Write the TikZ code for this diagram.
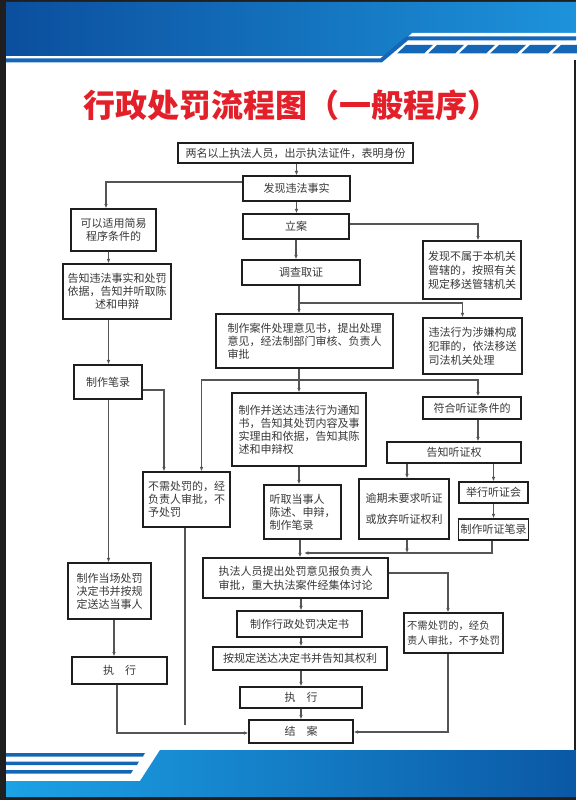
\documentclass[tikz,border=0pt]{standalone}
\usepackage{fontspec}
\newfontfamily\cjk{Noto Sans CJK SC}
\usetikzlibrary{arrows.meta}
\definecolor{txt}{HTML}{383838}
\definecolor{boxc}{HTML}{1E1E1E}
\definecolor{linec}{HTML}{555555}
\definecolor{frame}{HTML}{1F1F1F}
\definecolor{bandL}{HTML}{0B4F9E}
\definecolor{bandR}{HTML}{1D93DB}
\definecolor{stripe}{HTML}{1466B6}
\definecolor{botL}{HTML}{1CA2E6}
\definecolor{botR}{HTML}{0B58A5}
\definecolor{titlered}{HTML}{E3202A}
\tikzset{
  box/.style={draw=boxc, line width=1.2pt, fill=white, inner sep=2pt, text=txt,
    font=\cjk\fontsize{11}{13}\selectfont, align=center},
  arr/.style={draw=linec, line width=1.1pt, -{Latex[length=4.5pt,width=3.6pt]}},
  ln/.style={draw=linec, line width=1.1pt}
}
\newcommand\mybox[6]{\node[box,#1,minimum width=#4pt,minimum height=#5pt] (#2) at (#3) {#6};}
\begin{document}
\begin{tikzpicture}[x=1pt,y=-1pt]
\useasboundingbox (0,0) rectangle (576,800);
% frame and background
\fill[frame] (0,0) rectangle (576,800);
\fill[white] (6,2) rectangle (574,797);
% header
\shade[left color=bandL, right color=bandR] (6,2) -- (576,2) -- (576,33) -- (412,33) -- (386,56) -- (6,56) -- cycle;
\fill[white] (412,33) -- (576,33) -- (576,60) -- (574,60) -- (574,36) -- cycle;
\draw[stripe, line width=4pt] (6,60.5) -- (381,60.5) -- (407,38.5) -- (576,38.5);
\foreach \i in {0,...,5}{
  \fill[stripe] ({397+31*\i},53.5) -- ({424+31*\i},53.5) -- ({433+31*\i},45) -- ({406+31*\i},45) -- cycle;
}
% footer
\shade[left color=botL, right color=botR] (160,750) -- (576,750) -- (576,797) -- (6,797) -- (6,781) -- (140,781) -- cycle;
\fill[stripe] (6,753) -- (145,753) -- (143,756.5) -- (6,756.5) -- cycle;
\fill[stripe] (6,761.5) -- (139,761.5) -- (137,765) -- (6,765) -- cycle;
\fill[stripe] (6,770) -- (133,770) -- (131,773.5) -- (6,773.5) -- cycle;
% title
\node[text=titlered, font=\cjk\bfseries\fontsize{32}{32}\selectfont, inner sep=0pt] (title) at (291,105) {行政处罚流程图（一般程序）};

% boxes
\mybox{}{A}{295.5,153}{235}{20}{两名以上执法人员，出示执法证件，表明身份}
\mybox{}{B}{296.5,188.5}{107}{25}{发现违法事实}
\mybox{}{C}{296,226.5}{106}{25}{立案}
\mybox{}{D}{301,272.5}{118}{25}{调查取证}
\mybox{}{E}{113.5,230}{85}{42}{可以适用简易\\程序条件的}
\mybox{}{F}{117,291.5}{108}{55}{告知违法事实和处罚\\依据，告知并听取陈\\述和申辩}
\mybox{align=left}{G}{304.5,341}{177}{54}{制作案件处理意见书，提出处理\\意见，经法制部门审核、负责人\\审批}
\mybox{align=left,font=\cjk\fontsize{11}{14}\selectfont}{H}{472,270}{98}{58}{发现不属于本机关\\管辖的，按照有关\\规定移送管辖机关}
\mybox{align=left,font=\cjk\fontsize{11}{14}\selectfont}{I}{472.5,346}{99}{56}{违法行为涉嫌构成\\犯罪的，依法移送\\司法机关处理}
\mybox{}{J}{108,382}{68}{34}{制作笔录}
\mybox{align=left}{K}{186.5,499.5}{87}{55}{不需处罚的，经\\负责人审批，不\\予处罚}
\mybox{align=left}{L}{299,429.5}{134}{73}{制作并送达违法行为通知\\书，告知其处罚内容及事\\实理由和依据，告知其陈\\述和申辩权}
\mybox{}{M}{472,408}{98}{22}{符合听证条件的}
\mybox{align=left}{N}{302.5,512}{77}{54}{听取当事人\\陈述、申辩，\\制作笔录}
\mybox{}{P}{454,452.5}{134}{21}{告知听证权}
\mybox{font=\cjk\fontsize{11}{21}\selectfont}{Q}{404,509}{90}{60}{逾期未要求听证\\或放弃听证权利}
\mybox{}{R}{493.5,492.5}{69}{21}{举行听证会}
\mybox{}{S}{493.5,529.5}{69}{21}{制作听证笔录}
\mybox{}{O}{109.5,591}{83}{56}{制作当场处罚\\决定书并按规\\定送达当事人}
\mybox{}{Z}{119.5,670.5}{95}{27}{执\hspace{1em}行}
\mybox{font=\cjk\fontsize{11}{14}\selectfont}{T}{295.5,578}{185}{40}{执法人员提出处罚意见报负责人\\审批，重大执法案件经集体讨论}
\mybox{align=left,font=\cjk\fontsize{10.3}{15}\selectfont}{U}{453.5,633}{99}{40}{不需处罚的，经负\\责人审批，不予处罚}
\mybox{}{V}{299.5,624}{125}{26}{制作行政处罚决定书}
\mybox{}{W}{300,658.5}{174}{23}{按规定送达决定书并告知其权利}
\mybox{}{X}{301,697.5}{122}{21}{执\hspace{1em}行}
\mybox{}{Y}{301,731.5}{104}{23}{结\hspace{1em}案}

% helper coordinates
\coordinate (spine) at (299,0);
\coordinate (spine2) at (301,0);
\coordinate (leftx) at (108.5,0);
\coordinate (hx) at (478,0);
\coordinate (qx) at (407,0);
\coordinate (zx) at (114,0);
\coordinate (br1) at (299,303);
\coordinate (bus) at (299,380);
\coordinate (bus2) at (300,553);
\coordinate (kend) at (185,725);

% connectors
\draw[arr] (A.south -| B.north) -- (B.north);
\draw[arr] (B.south) -- (C.north -| B.south);
\draw[arr] (C.south) -- (D.north -| C.south);
\draw[arr] ([yshift=6.5pt]B.west) -| ([xshift=-7.5pt]E.north);
\draw[arr] ([yshift=2.5pt]C.east) -| ([xshift=6pt]H.north);
\draw[arr] (D.south -| spine) -- (G.north -| spine);
\draw[arr] (br1) -| ([xshift=-10pt]I.north);
\draw[arr] (E.south -| leftx) -- (F.north -| leftx);
\draw[arr] (F.south -| leftx) -- (J.north -| leftx);
\draw[arr] (J.south -| leftx) -- (O.north -| leftx);
\draw[arr] (G.south -| spine) -- (L.north -| spine);
\draw[arr] (bus) -| ([xshift=15pt]K.north);
\draw[arr] (bus) -| (M.north -| hx);
\draw[arr] ([yshift=-8pt]J.east) -| ([xshift=-22.5pt]K.north);
\draw[ln] ([xshift=-1.5pt]K.south) -- (kend);
\draw[arr] (L.south -| spine) -- (N.north -| spine);
\draw[arr] (M.south -| hx) -- (P.north -| hx);
\draw[arr] (P.south -| qx) -- (Q.north -| qx);
\draw[arr] (P.south -| R.north) -- (R.north);
\draw[arr] (R.south) -- (S.north);
\draw[arr] (N.south -| bus2) -- (T.north -| bus2);
\draw[arr] (Q.south -| qx) -- (bus2 -| qx);
\draw[arr] ([xshift=-1.5pt]S.south) |- ([xshift=4pt]bus2);
\draw[arr] ([yshift=5pt]T.east) -| ([xshift=-5.5pt]U.north);
\draw[arr] (T.south -| spine2) -- (V.north -| spine2);
\draw[arr] (V.south -| spine2) -- (W.north -| spine2);
\draw[arr] (W.south -| spine2) -- (X.north -| spine2);
\draw[arr] (X.south -| spine2) -- (Y.north -| spine2);
\draw[arr] ([xshift=-5.5pt]U.south) |- ([yshift=-0.5pt]Y.east);
\draw[arr] (O.south -| zx) -- (Z.north -| zx);
\draw[arr] ([xshift=-2.5pt]Z.south) |- ([yshift=-1.5pt]Y.west);
\end{tikzpicture}
\end{document}
